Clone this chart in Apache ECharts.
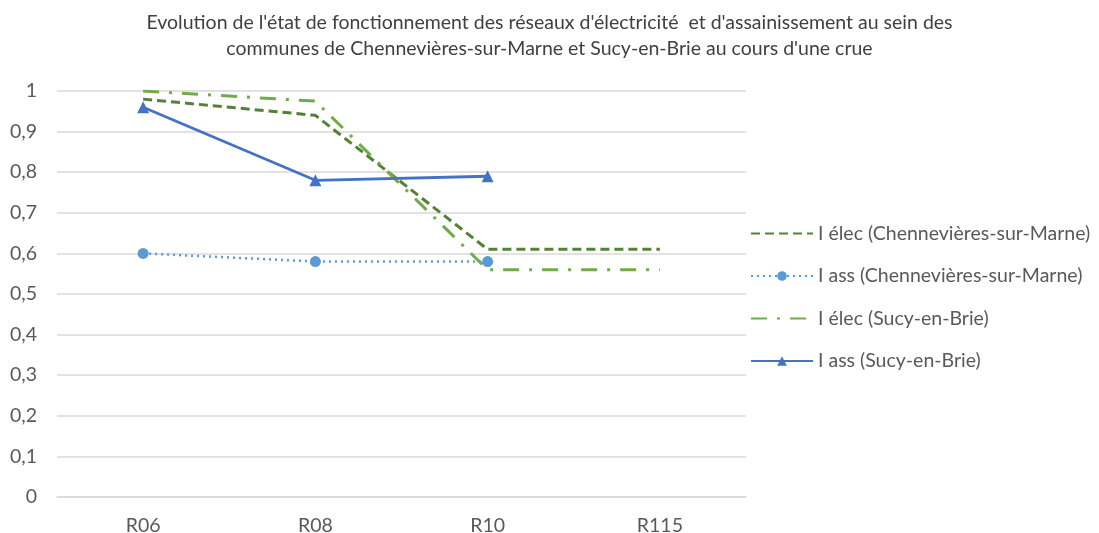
<!DOCTYPE html>
<html>
<head>
<meta charset="utf-8">
<script src="https://cdn.jsdelivr.net/npm/echarts@6/dist/echarts.min.js"></script>
<style>
  html, body { margin: 0; padding: 0; background: #fff; }
  #chart { width: 1099px; height: 533px; }
</style>
</head>
<body>
<div id="chart"></div>
<script>
// Flood scenarios (x axis)
const categories = ['R06', 'R08', 'R10', 'R115'];

// Operating-state indices per network and commune
const elecChennevieres = [0.98, 0.94, 0.61, 0.61];
const assChennevieres = [0.60, 0.58, 0.58, null];
const elecSucy = [1.00, 0.975, 0.56, 0.56];
const assSucy = [0.96, 0.78, 0.79, null];

const seriesNames = [
  'I élec (Chennevières-sur-Marne)',
  'I ass (Chennevières-sur-Marne)',
  'I élec (Sucy-en-Brie)',
  'I ass (Sucy-en-Brie)'
];

const yTicks = { min: 0, max: 1, interval: 0.1 };

const FONT = 'Lato, "Liberation Sans", "Noto Sans", sans-serif';
const FONT_SIZE = 19.5;
const TEXT_COLOR = '#595959';
const HIDDEN_SYMBOL = { color: 'rgba(0,0,0,0)', borderColor: 'rgba(0,0,0,0)', borderWidth: 0 };

const chart = echarts.init(document.getElementById('chart'), null, { renderer: 'canvas' });

chart.setOption({
  animation: false,
  backgroundColor: '#ffffff',
  title: {
    text: "Evolution de l'état de fonctionnement des réseaux d'électricité  et d'assainissement au sein des\ncommunes de Chennevières-sur-Marne et Sucy-en-Brie au cours d'une crue",
    left: 'center',
    top: 5,
    textStyle: {
      fontFamily: FONT,
      fontSize: FONT_SIZE,
      fontWeight: 'normal',
      color: '#404040',
      lineHeight: 26
    }
  },
  grid: { left: 57, right: 353, top: 91, bottom: 36, outerBoundsMode: 'none', containLabel: false },
  legend: {
    orient: 'vertical',
    left: 745,
    top: 218,
    itemWidth: 62,
    itemHeight: 12,
    itemGap: 21.5,
    textStyle: { fontFamily: FONT, fontSize: FONT_SIZE, color: TEXT_COLOR, lineHeight: 21 },
    data: [
      { name: seriesNames[0], itemStyle: HIDDEN_SYMBOL },
      { name: seriesNames[1] },
      { name: seriesNames[2], itemStyle: HIDDEN_SYMBOL },
      { name: seriesNames[3] }
    ]
  },
  xAxis: {
    type: 'category',
    data: categories,
    boundaryGap: true,
    axisLine: { lineStyle: { color: '#d9d9d9', width: 1.5 } },
    axisTick: { show: false },
    axisLabel: { fontFamily: FONT, fontSize: FONT_SIZE, color: TEXT_COLOR, margin: 19 }
  },
  yAxis: {
    type: 'value',
    min: yTicks.min,
    max: yTicks.max,
    interval: yTicks.interval,
    axisLine: { show: false },
    axisTick: { show: false },
    splitLine: { lineStyle: { color: '#d9d9d9', width: 1.5 } },
    axisLabel: {
      fontFamily: FONT,
      fontSize: FONT_SIZE,
      color: TEXT_COLOR,
      margin: 20,
      formatter: v => String(Math.round(v * 10) / 10).replace('.', ',')
    }
  },
  series: [
    {
      name: seriesNames[0],
      type: 'line',
      data: elecChennevieres,
      symbol: 'none',
      color: '#548235',
      lineStyle: { width: 3, type: [9, 5] },
      z: 2
    },
    {
      name: seriesNames[1],
      type: 'line',
      data: assChennevieres,
      symbol: 'circle',
      symbolSize: 11,
      color: '#5B9BD5',
      itemStyle: { color: '#5B9BD5' },
      lineStyle: { width: 2.5, type: [2, 4] },
      z: 3
    },
    {
      name: seriesNames[2],
      type: 'line',
      data: elecSucy,
      symbol: 'none',
      color: '#70AD47',
      lineStyle: { width: 3, type: [16, 10, 3, 10] },
      z: 2
    },
    {
      name: seriesNames[3],
      type: 'line',
      data: assSucy,
      symbol: 'triangle',
      symbolSize: 12,
      color: '#4472C4',
      itemStyle: { color: '#4472C4' },
      lineStyle: { width: 2.8 },
      z: 4
    }
  ]
});
</script>
</body>
</html>
